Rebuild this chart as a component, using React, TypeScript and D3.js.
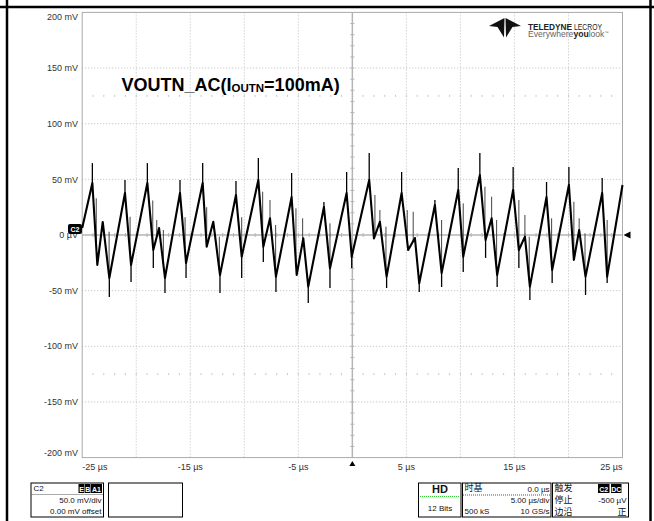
import React, { useEffect, useRef } from "react";
import * as d3 from "d3";

// axis ticks / labels
const Y_TICKS = [200, 150, 100, 50, 0, -50, -100, -150, -200];
const Y_LABELS = ["200 mV", "150 mV", "100 mV", "50 mV", "0 µV", "-50 mV", "-100 mV", "-150 mV", "-200 mV"];
const X_TICKS = [-25, -15, -5, 5, 15, 25];
const X_LABELS = ["-25 µs", "-15 µs", "-5 µs", "5 µs", "15 µs", "25 µs"];
const X_GRID = [-20, -15, -10, -5, 5, 10, 15, 20];
const Y_GRID = [150, 100, 50, -50, -100, -150];
const MARK_ROWS = [125, -125];

// main trace vertices (µs, mV)
const TRACE_T = [
  -25.0, -24.06, -23.6, -23.1, -22.49, -21.04, -20.48, -18.97, -18.42, -17.89,
  -17.34, -15.95, -15.39, -13.85, -13.48, -12.87, -12.25, -10.77, -10.24, -8.7,
  -8.24, -7.62, -7.07, -5.62, -5.15, -4.54, -4.08, -2.63, -2.07, -0.53,
  -0.06, 1.56, 2.0, 2.55, 3.17, 4.56, 5.17, 5.79, 6.19, 7.64,
  8.26, 9.8, 10.26, 11.8, 12.33, 12.89, 13.4, 14.88, 15.41, 15.97,
  16.43, 17.97, 18.49, 20.04, 20.5, 20.99, 21.58, 23.12, 23.58, 25.0,
];
const TRACE_MV = [
  6.3, 46.7, -26.9, 11.7, -38.6, 37.7, -26.9, 46.7, -13.5, 6.3,
  -38.6, 37.7, -25.1, 46.7, -10.5, 11.9, -35.9, 35.9, -19.5, 49.4,
  -10.5, 15.0, -37.4, 34.1, -35.9, -3.0, -46.4, 25.1, -29.9, 37.7,
  -19.5, 49.4, -3.0, 11.9, -37.4, 37.7, -13.5, -2.7, -43.4, 26.9,
  -34.1, 40.4, -19.5, 53.9, -4.5, 15.0, -35.9, 40.4, -13.5, -1.5,
  -46.4, 34.1, -31.4, 44.9, -22.4, 4.5, -37.4, 37.7, -37.4, 44.9,
];

// spikes on top of the trace (µs, tip mV)
const PEAK_T = [-24.06, -21.04, -18.97, -15.95, -13.85, -10.77, -8.7, -5.62, -2.63, -0.53, 1.56, 4.56, 7.64, 9.8, 11.8, 14.88, 17.97, 20.04, 23.12];
const PEAK_MV = [64.6, 49.4, 64.6, 49.4, 64.6, 48.5, 69.1, 55.7, 29.6, 56.6, 73.6, 56.6, 31.4, 60.1, 73.6, 61.0, 47.6, 61.0, 51.2];
const DIP_T = [-22.49, -20.48, -18.42, -17.34, -15.39, -12.25, -10.24, -8.24, -7.07, -4.08, -2.07, -0.06, 3.17, 6.19, 8.26, 10.26, 12.33, 13.4, 15.41, 16.43, 18.49, 21.58, 23.58];
const DIP_MV = [-55.7, -42.2, -29.6, -52.1, -38.6, -52.1, -38.6, -24.2, -51.2, -61.0, -47.6, -29.6, -47.6, -51.2, -46.7, -33.2, -20.6, -46.7, -29.6, -58.3, -43.1, -53.9, -43.1];
const NOISE_T = [-23.7, -22.51, -20.57, -18.47, -18.1, -17.49, -15.48, -13.48, -12.31, -10.24, -8.3, -7.62, -7.1, -5.22, -4.6, -2.07, 2.09, 2.55, 3.11, 5.08, 5.63, 8.26, 10.26, 12.27, 12.89, 13.35, 15.41, 15.97, 16.37, 18.44, 20.5, 20.99, 21.53, 23.58];
const NOISE_MV = [33, 3, 16.4, 31, 13.5, 4.5, 16, 25, -1.5, 16, 38.9, 31.4, 9, 24, 15, 10.5, 35.9, 22.4, 7.5, 22.4, 20.9, 13.5, 28.4, 43.4, 34.4, 13.5, 31.4, 18, -1.5, 15, 29.9, 15, 1.5, 13.5];

const FONT = "'Liberation Sans', Arial, sans-serif";
const CJK = "'Noto Sans CJK SC', 'Liberation Sans', sans-serif";

export default function App() {
  const svgRef = useRef<SVGSVGElement>(null);

  useEffect(() => {
    if (!svgRef.current) return;
    const svg = d3.select(svgRef.current);
    svg.selectAll("*").remove();

    const left = 82.2, right = 622.5, top = 12.4, bottom = 457.6;
    const x = d3.scaleLinear().domain([-25, 25]).range([left, right]);
    const y = d3.scaleLinear().domain([-200, 200]).range([bottom, top]);

    // page frame
    svg.append("line").attr("x1", 0).attr("x2", 654).attr("y1", 7).attr("y2", 7).attr("stroke", "#000").attr("stroke-width", 2.5);
    [7, 650.5].forEach(xx =>
      svg.append("line").attr("x1", xx).attr("x2", xx).attr("y1", 0).attr("y2", 521).attr("stroke", "#000").attr("stroke-width", 2.5)
    );

    const g = svg.append("g");

    // grid
    g.selectAll(".vgrid").data(X_GRID).enter().append("line")
      .attr("x1", d => x(d)).attr("x2", d => x(d)).attr("y1", top).attr("y2", bottom)
      .attr("stroke", "#bdbdbd").attr("stroke-dasharray", "1,2");
    g.selectAll(".hgrid").data(Y_GRID).enter().append("line")
      .attr("x1", left).attr("x2", right).attr("y1", d => y(d)).attr("y2", d => y(d))
      .attr("stroke", "#bdbdbd").attr("stroke-dasharray", "1,2");

    // quarter marks rows
    const us = d3.range(-24, 25, 1);
    MARK_ROWS.forEach(r => {
      g.selectAll(null).data(us.filter(u => u !== 0)).enter().append("line")
        .attr("x1", d => x(d)).attr("x2", d => x(d)).attr("y1", y(r) - 1).attr("y2", y(r) + 1)
        .attr("stroke", "#c8c8c8");
    });

    // center axes
    g.append("line").attr("x1", left).attr("x2", right).attr("y1", y(0)).attr("y2", y(0)).attr("stroke", "#b4b4b4").attr("stroke-width", 1.5);
    g.append("line").attr("x1", x(0)).attr("x2", x(0)).attr("y1", top).attr("y2", bottom).attr("stroke", "#b4b4b4").attr("stroke-width", 1.5);
    g.selectAll(null).data(us).enter().append("line")
      .attr("x1", d => x(d)).attr("x2", d => x(d)).attr("y1", y(0) - 2).attr("y2", y(0) + 2).attr("stroke", "#b4b4b4");
    g.selectAll(null).data(d3.range(-190, 200, 10)).enter().append("line")
      .attr("x1", x(0) - 2).attr("x2", x(0) + 2).attr("y1", d => y(d)).attr("y2", d => y(d)).attr("stroke", "#b4b4b4");

    // border
    g.append("rect").attr("x", left).attr("y", top).attr("width", right - left).attr("height", bottom - top)
      .attr("fill", "none").attr("stroke", "#aaa");

    // y labels
    g.selectAll(".ylab").data(Y_TICKS).enter().append("text")
      .attr("x", 78).attr("y", d => Math.min(Math.max(y(d), top + 4.5), bottom - 4.5))
      .attr("dy", "0.35em").attr("text-anchor", "end")
      .style("font-family", FONT).style("font-size", "9px").style("fill", "#333")
      .text((d, i) => Y_LABELS[i]);

    // x labels
    g.selectAll(".xlab").data(X_TICKS).enter().append("text")
      .attr("x", d => x(d)).attr("y", 469.5)
      .attr("text-anchor", (d, i) => (i === 0 ? "start" : i === X_TICKS.length - 1 ? "end" : "middle"))
      .style("font-family", FONT).style("font-size", "9px").style("fill", "#333")
      .text((d, i) => X_LABELS[i]);

    // trace
    const pts: [number, number][] = TRACE_T.map((t, i) => [t, TRACE_MV[i]]);
    const traceAt = (t: number) => {
      const i = Math.max(1, Math.min(TRACE_T.length - 1, d3.bisectLeft(TRACE_T, t)));
      const t0 = TRACE_T[i - 1], t1 = TRACE_T[i];
      const k = t1 === t0 ? 0 : (t - t0) / (t1 - t0);
      return TRACE_MV[i - 1] + k * (TRACE_MV[i] - TRACE_MV[i - 1]);
    };
    const spikes = (ts: number[], vs: number[], color: string, w: number) =>
      g.selectAll(null).data(ts).enter().append("line")
        .attr("x1", d => x(d)).attr("x2", d => x(d))
        .attr("y1", d => y(traceAt(d))).attr("y2", (d, i) => y(vs[i]))
        .attr("stroke", color).attr("stroke-width", w);

    spikes(NOISE_T, NOISE_MV, "#444", 1);
    g.append("path").datum(pts)
      .attr("d", d3.line<[number, number]>().x(d => x(d[0])).y(d => y(d[1])))
      .attr("fill", "none").attr("stroke", "#000").attr("stroke-width", 2.1).attr("stroke-linejoin", "round");
    spikes(PEAK_T, PEAK_MV, "#000", 1.3);
    spikes(DIP_T, DIP_MV, "#000", 1.3);

    // title
    const title = g.append("text").attr("x", 121.5).attr("y", 91)
      .style("font-family", FONT).style("font-weight", "bold").style("font-size", "18px").style("fill", "#000");
    title.append("tspan").text("VOUTN_AC(I");
    title.append("tspan").attr("dy", 1).style("font-size", "11.5px").text("OUTN");
    title.append("tspan").attr("dy", -1).text("=100mA)");

    // channel marker
    g.append("rect").attr("x", 68).attr("y", 224).attr("width", 14).attr("height", 10).attr("rx", 2).attr("fill", "#000");
    g.append("text").attr("x", 75).attr("y", 231.5).attr("text-anchor", "middle")
      .style("font-family", FONT).style("font-size", "7px").style("font-weight", "bold").style("fill", "#fff").text("C2");
    g.append("path").attr("d", `M${right + 1},${y(0)} L${right + 8},${y(0) - 3.5} L${right + 8},${y(0) + 3.5} Z`).attr("fill", "#000");
    g.append("path").attr("d", `M${x(0)},461 L${x(0) - 3},466 L${x(0) + 3},466 Z`).attr("fill", "#000");

    // logo
    g.append("path").attr("d", "M489,26 L504.5,18 L504,37.5 L497.5,27 Z").attr("fill", "#111");
    g.append("path").attr("d", "M521,26 L505.5,18 L506,37.5 L512.5,27 Z").attr("fill", "#111");
    g.append("text").attr("x", 528).attr("y", 29.5).attr("textLength", 44).attr("lengthAdjust", "spacingAndGlyphs")
      .style("font-family", FONT).style("font-size", "9px").style("font-weight", "bold").style("fill", "#222").text("TELEDYNE");
    g.append("text").attr("x", 574).attr("y", 29.5).attr("textLength", 28).attr("lengthAdjust", "spacingAndGlyphs")
      .style("font-family", FONT).style("font-size", "9px").style("fill", "#222").text("LECROY");
    const l2 = g.append("text").attr("x", 528).attr("y", 37)
      .style("font-family", FONT).style("font-size", "8.6px").style("fill", "#666");
    l2.append("tspan").text("Everywhere");
    l2.append("tspan").style("font-weight", "bold").style("fill", "#222").text("you");
    l2.append("tspan").text("look");
    l2.append("tspan").attr("dy", -3).style("font-size", "4px").text("™");

    // info panels
    const box = (bx: number, bw: number) =>
      g.append("rect").attr("x", bx).attr("y", 483).attr("width", bw).attr("height", 34).attr("fill", "#fff").attr("stroke", "#000");
    const txt = (tx: number, ty: number, s: string, anchor = "start", size = 8, fam = FONT, weight = "normal", fill = "#111") =>
      g.append("text").attr("x", tx).attr("y", ty).attr("text-anchor", anchor)
        .style("font-family", fam).style("font-size", `${size}px`).style("font-weight", weight).style("fill", fill).text(s);
    const badge = (bx: number, bw: number, s: string) => {
      g.append("rect").attr("x", bx).attr("y", 484).attr("width", bw).attr("height", 9).attr("fill", "#000");
      txt(bx + bw / 2, 491.5, s, "middle", 7, FONT, "bold", "#fff");
    };
    const sep = (x1: number, x2: number, yy: number, color = "#555") =>
      g.append("line").attr("x1", x1).attr("x2", x2).attr("y1", yy).attr("y2", yy).attr("stroke", color).attr("stroke-dasharray", "1,1");

    box(31, 72.5);
    txt(33.5, 491, "C2");
    badge(78.5, 6, "E");
    badge(85, 5.5, "B");
    badge(91, 11, "A1");
    sep(31.5, 103, 494.5);
    txt(101.5, 503, "50.0 mV/div", "end");
    txt(101.5, 514, "0.00 mV offset", "end");
    box(108.5, 74);

    box(418.5, 42.5);
    txt(440, 492.5, "HD", "middle", 11, FONT, "bold");
    sep(420, 459.5, 496.5, "#3c3");
    txt(440, 510.5, "12 Bits", "middle");

    box(462.5, 88.5);
    txt(464.5, 491, "时基", "start", 9, CJK);
    txt(549.5, 491.5, "0.0 µs", "end");
    sep(463, 550.5, 495);
    txt(549.5, 503, "5.00 µs/div", "end");
    txt(464.5, 514, "500 kS");
    txt(549.5, 514, "10 GS/s", "end");

    box(552.5, 76);
    txt(554.5, 491, "触发", "start", 9, CJK);
    badge(598, 11.5, "C2");
    badge(611, 10.5, "DC");
    txt(554.5, 503, "停止", "start", 9, CJK);
    txt(626.5, 503, "-500 µV", "end");
    txt(554.5, 514.5, "边沿", "start", 9, CJK);
    txt(626.5, 514.5, "正", "end", 9, CJK);
  }, []);

  return (
    <svg ref={svgRef} width={654} height={521} style={{ position: "absolute", left: 0, top: 0, background: "#fff" }} />
  );
}
